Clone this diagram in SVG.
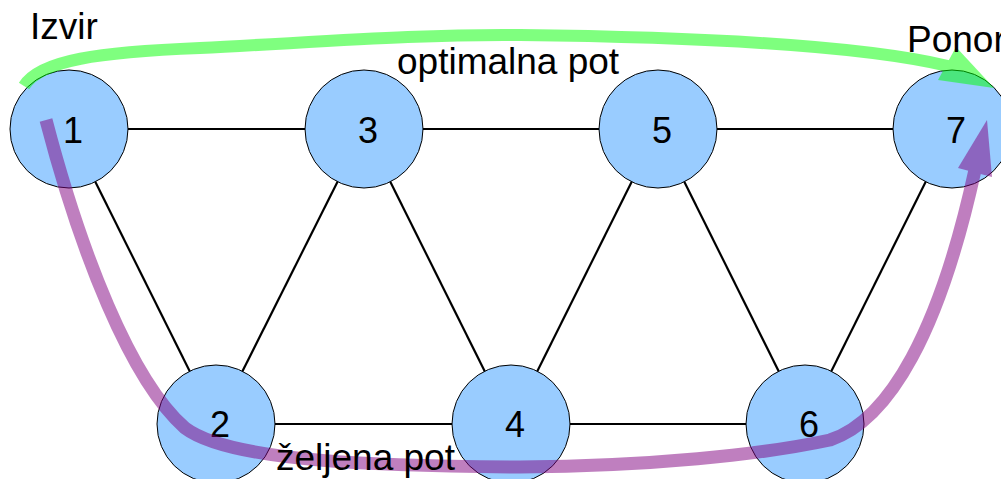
<svg xmlns="http://www.w3.org/2000/svg" width="1001" height="479" viewBox="0 0 1001 479">
  <style>
    .edge { stroke: #000; stroke-width: 2.2; fill: none; }
    .node circle { fill: #99ccff; stroke: #000; stroke-width: 1; }
    .num { font-family: "Liberation Sans", Arial, sans-serif; font-size: 36px; fill: #000; text-anchor: middle; }
    .label { font-family: "Liberation Sans", Arial, sans-serif; font-size: 37px; fill: #000; }
  </style>
  <rect width="1001" height="479" fill="#fff"/>

  <!-- graph edges -->
  <g id="connectors">
    <line class="edge" x1="69" y1="129" x2="364" y2="129"/>
    <line class="edge" x1="364" y1="129" x2="658" y2="129"/>
    <line class="edge" x1="658" y1="129" x2="952" y2="129"/>
    <line class="edge" x1="216" y1="424" x2="511" y2="424"/>
    <line class="edge" x1="511" y1="424" x2="805" y2="424"/>
    <line class="edge" x1="69" y1="129" x2="216" y2="424"/>
    <line class="edge" x1="216" y1="424" x2="364" y2="129"/>
    <line class="edge" x1="364" y1="129" x2="511" y2="424"/>
    <line class="edge" x1="511" y1="424" x2="658" y2="129"/>
    <line class="edge" x1="658" y1="129" x2="805" y2="424"/>
    <line class="edge" x1="805" y1="424" x2="952" y2="129"/>
  </g>

  <!-- nodes -->
  <g id="node1" class="node"><circle cx="69" cy="129" r="59"/><text class="num" x="73" y="143">1</text></g>
  <g id="node3" class="node"><circle cx="364" cy="129" r="59"/><text class="num" x="368" y="143">3</text></g>
  <g id="node5" class="node"><circle cx="658" cy="129" r="59"/><text class="num" x="662" y="143">5</text></g>
  <g id="node7" class="node"><circle cx="952" cy="129" r="59"/><text class="num" x="956" y="143">7</text></g>
  <g id="node2" class="node"><circle cx="216" cy="424" r="59"/><text class="num" x="220" y="437">2</text></g>
  <g id="node4" class="node"><circle cx="511" cy="424" r="59"/><text class="num" x="515" y="437">4</text></g>
  <g id="node6" class="node"><circle cx="805" cy="424" r="59"/><text class="num" x="809" y="437">6</text></g>

  <!-- optimal path (green, translucent) -->
  <g id="optimal-path" opacity="0.5">
    <path d="M 24,86 C 40,60 100,52 200,48 C 320,42 420,34 520,35 C 700,37 860,45 948,66" fill="none" stroke="#00ff00" stroke-width="12"/>
    <polygon points="994,88 956,47 938,80" fill="#00ff00"/>
  </g>

  <!-- desired path (purple, translucent) -->
  <g id="desired-path" opacity="0.5">
    <path d="M 46,120 C 80,250 130,380 185,428 C 230,462 380,466 520,467 C 650,466 760,455 830,440 C 890,420 940,330 975,170" fill="none" stroke="#800080" stroke-width="13"/>
    <polygon points="987,120 958,168 992,177" fill="#800080"/>
  </g>

  <!-- labels -->
  <g id="labels">
    <text class="label" x="30" y="39">Izvir</text>
    <text class="label" x="397" y="74">optimalna pot</text>
    <text class="label" x="907" y="52">Ponor</text>
    <text class="label" x="276" y="470">željena pot</text>
  </g>
</svg>
